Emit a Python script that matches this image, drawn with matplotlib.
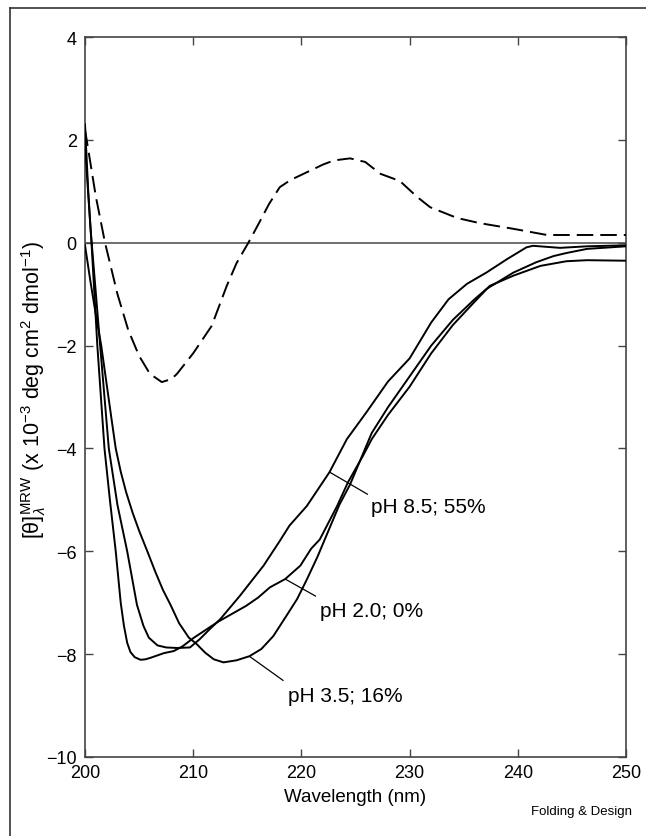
import matplotlib
matplotlib.use("Agg")
import matplotlib.pyplot as plt
from matplotlib.lines import Line2D

plt.rcParams['font.family'] = ['Liberation Sans', 'DejaVu Sans']
plt.rcParams['mathtext.fontset'] = 'custom'
plt.rcParams['mathtext.rm'] = 'Liberation Sans'
plt.rcParams['mathtext.it'] = 'Liberation Sans:italic'
plt.rcParams['mathtext.bf'] = 'Liberation Sans:bold'

# ---- data (wavelength nm, [theta] x 1e-3) ----
wl_dash = [200, 201, 201.85, 203, 204, 205, 206, 207.1, 208, 208.5, 210, 211.7, 213.1, 214,
           215.1, 216, 217, 218, 219, 220, 221, 222, 223, 224.5, 225.9, 227.3, 229.1, 230.7,
           231.9, 234.4, 236.5, 239.6, 242.7, 250]
val_dash = [2.2, 0.9, 0.0, -1.0, -1.7, -2.2, -2.55, -2.71, -2.65, -2.55, -2.15, -1.62, -0.84, -0.4,
            0.0, 0.35, 0.75, 1.08, 1.22, 1.32, 1.42, 1.52, 1.6, 1.64, 1.57, 1.34, 1.2, 0.89,
            0.69, 0.48, 0.38, 0.27, 0.15, 0.15]

wl_ph85 = [200, 200.5, 201.4, 202.2, 203.0, 203.9, 204.8, 205.4, 205.9, 206.7, 207.5, 208.5, 209.7,
           210.6, 211.5, 212.5, 214.3, 216.5, 218.0, 218.9, 220.5, 222.6,
           224.2, 226, 228, 230, 232, 233.6, 235.3, 237.1, 239, 240.8, 241.4, 243.9, 246.4, 250]
val_ph85 = [1.9, 0.3, -2.0, -4.0, -5.1, -6.0, -7.04, -7.45, -7.68, -7.83, -7.87, -7.88, -7.87,
            -7.71, -7.52, -7.32, -6.87, -6.28, -5.8, -5.5, -5.12, -4.46,
            -3.82, -3.3, -2.7, -2.25, -1.55, -1.1, -0.8, -0.58, -0.32, -0.09, -0.06, -0.1, -0.07, -0.05]

wl_ph20 = [200, 200.3, 200.6, 201.14, 201.8, 202.3, 202.84, 203.3, 203.6, 203.9, 204.2, 204.6,
           205.14, 205.6, 206.07, 207.3, 208.2, 209.0, 210.07, 212.3, 214.9, 216, 217.1, 218.5,
           219.9, 220.9, 221.7, 223.3, 224.3, 225.7, 226.5, 228, 230, 232, 234, 236, 237.4, 239.6,
           242.1, 244.5, 246.4, 250]
val_ph20 = [2.3, 1.0, 0.0, -2.0, -4.0, -5.0, -6.0, -7.0, -7.45, -7.78, -7.96, -8.06,
            -8.11, -8.1, -8.07, -7.98, -7.94, -7.85, -7.68, -7.37, -7.06, -6.9, -6.7, -6.54,
            -6.28, -5.95, -5.77, -5.12, -4.66, -4.14, -3.82, -3.35, -2.8, -2.15, -1.6, -1.15, -0.84, -0.64,
            -0.45, -0.36, -0.34, -0.35]

wl_ph35 = [200, 200.5, 201, 201.5, 202, 202.5, 202.84, 203.3, 203.8, 204.4, 205.0, 205.76, 206.5,
           207.2, 207.9, 208.7, 209.6, 210.3, 211.1, 211.9, 212.8, 214, 215.2,
           216.3, 217.4, 218.6, 219.6, 220.5, 221.5, 222.5, 223.5, 224.5, 225.5, 226.5, 228, 230,
           232, 234, 236, 237.1, 239.6, 241.7, 243.3, 244.5, 246.4, 250]
val_ph35 = [-0.05, -0.75, -1.4, -2.0, -2.75, -3.5, -4.0, -4.45, -4.85, -5.25, -5.6, -6.0, -6.4,
            -6.75, -7.04, -7.4, -7.68, -7.8, -7.97, -8.1, -8.16, -8.12, -8.04,
            -7.9, -7.65, -7.26, -6.93, -6.55, -6.1, -5.6, -5.1, -4.7, -4.2, -3.7, -3.2, -2.6,
            -2.0, -1.5, -1.1, -0.9, -0.58, -0.38, -0.26, -0.2, -0.12, -0.07]

labels = ["pH 8.5; 55%", "pH 2.0; 0%", "pH 3.5; 16%"]
label_line_start = [(222.6, -4.46), (218.5, -6.54), (215.25, -8.05)]
label_line_end = [(226.1, -4.89), (221.3, -6.87), (218.3, -8.51)]
label_text_pos = [(226.4, -5.12), (221.7, -7.16), (218.8, -8.8)]

xticks = [200, 210, 220, 230, 240, 250]
yticks = [-10, -8, -6, -4, -2, 0, 2, 4]

MINUS = "\u2212"
ylabel_text = ("[\u03b8]$_{\\lambda}^{\\mathrm{MRW}}$ (x 10$^{\\mathrm{" + MINUS + "3}}$ deg cm$^{\\mathrm{2}}$ dmol$^{\\mathrm{" + MINUS + "1}}$)")

W, H = 646, 837
fig = plt.figure(figsize=(W / 100, H / 100), dpi=100)
ax = fig.add_axes([85 / W, 1 - 758 / H, (626 - 85) / W, (758 - 38) / H])

ax.axhline(0, color='#555555', lw=1.2, zorder=1)

ax.plot(wl_dash, val_dash, color='black', lw=1.4, dashes=(8.5, 3.6), zorder=3)
for wl, v in [(wl_ph85, val_ph85), (wl_ph20, val_ph20), (wl_ph35, val_ph35)]:
    ax.plot(wl, v, color='black', lw=1.4, zorder=3, solid_joinstyle='round')

for (x0, y0), (x1, y1), (tx, ty), lab in zip(label_line_start, label_line_end, label_text_pos, labels):
    ax.plot([x0, x1], [y0, y1], color='black', lw=0.9, zorder=3)
    ax.text(tx, ty, lab, fontsize=15, ha='left', va='center')

ax.set_xlim(200, 250)
ax.set_ylim(-10, 4)
ax.set_xticks(xticks)
ax.set_yticks(yticks)
ax.set_xticklabels([str(t) for t in xticks])
ax.set_yticklabels([(MINUS + str(-t)) if t < 0 else str(t) for t in yticks])
ax.tick_params(direction='in', length=6, width=1.0, color='#444444', labelsize=13,
               top=True, right=True)
ax.tick_params(axis='x', pad=5)
ax.tick_params(axis='y', pad=6)
for s in ax.spines.values():
    s.set_color('#444444')
    s.set_linewidth(1.2)

ax.set_xlabel('Wavelength (nm)', fontsize=13.5, labelpad=5)
fig.text(34 / W, 1 - 390 / H, ylabel_text, fontsize=15.5, rotation=90, ha='center', va='center')

# outer frame
fig.add_artist(Line2D([10 / W, 10 / W], [0, 1 - 9 / H], color='#333333', lw=1.2, transform=fig.transFigure))
fig.add_artist(Line2D([10 / W, 1], [1 - 9 / H, 1 - 9 / H], color='#333333', lw=1.2, transform=fig.transFigure))

fig.text(632 / W, 1 - 812 / H, 'Folding & Design', fontsize=9.5, ha='right', va='center')

fig.savefig('out.png', dpi=100)
